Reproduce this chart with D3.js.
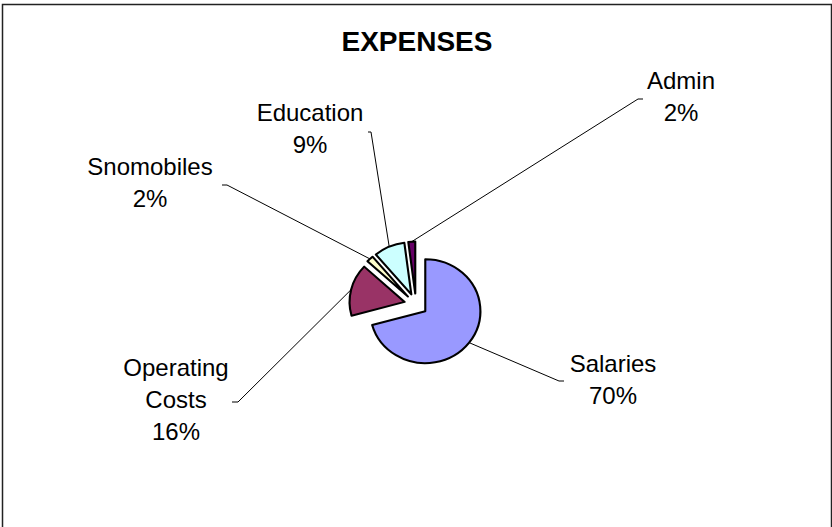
<!DOCTYPE html>
<html>
<head>
<meta charset="utf-8">
<script src="https://cdn.jsdelivr.net/npm/d3@7"></script>
<style>
  body { margin:0; background:#fff; }
  text { font-family: "Liberation Sans", Arial, sans-serif; }
</style>
</head>
<body>
<div class="container"></div>
<script>
// expense categories and their share (percent), in drawing order
var categories = ["Salaries", "Operating Costs", "Snomobiles", "Education", "Admin"];
var percents = [70, 16, 2, 9, 2];
var labelLines = [["Salaries"], ["Operating", "Costs"], ["Snomobiles"], ["Education"], ["Admin"]];
var colors = ["#9999FF", "#993366", "#FFFFCC", "#CCFFFF", "#660066"];

var width = 832, height = 527;
var cx = 416, cy = 304.5, radius = 52, explode = 11, sx = 1.06;

// where each data label sits (center x, first baseline) and the leader line end
var labelPos = [
  {x:613, y:372, ex:[559,381], tx:[564,381]},
  {x:176, y:376, ex:[238,402], tx:[232,402]},
  {x:150, y:175, ex:[227,185], tx:[222,185]},
  {x:310, y:121, ex:[371,132], tx:[368,132]},
  {x:681, y:89,  ex:[638,99],  tx:[643,99]}
];

var svg = d3.select(".container").append("svg")
    .attr("width", width).attr("height", height);

svg.append("rect").attr("width", width).attr("height", height).attr("fill", "#fff");

// frame
svg.append("rect")
    .attr("x", 2.5).attr("y", 4.5)
    .attr("width", 829).attr("height", 560)
    .attr("fill", "none").attr("stroke", "#222").attr("stroke-width", 1.5);

svg.append("text")
    .attr("x", 417).attr("y", 51)
    .attr("text-anchor", "middle")
    .attr("font-size", "28px").attr("font-weight", "bold")
    .text("EXPENSES");

var data = categories.map(function(c, i){ return {name:c, value:percents[i], i:i}; });

var pie = d3.pie().sort(null).value(function(d){ return d.value; });
var arcs = pie(data);
var arc = d3.arc().innerRadius(0).outerRadius(radius);

function offset(d, dist){
  var a = (d.startAngle + d.endAngle) / 2;
  return [Math.sin(a) * dist * sx, -Math.cos(a) * dist];
}

// leader lines
svg.selectAll("polyline.leader")
    .data(arcs)
    .enter().append("polyline")
    .attr("class", "leader")
    .attr("fill", "none").attr("stroke", "#000").attr("stroke-width", 1)
    .attr("points", function(d, i){
      var p = offset(d, radius + explode);
      var lp = labelPos[i];
      return [[cx + p[0], cy + p[1]], lp.ex, lp.tx].map(function(q){ return q.join(","); }).join(" ");
    });

var pieGroup = svg.append("g")
    .attr("transform", "translate(" + cx + "," + cy + ") scale(" + sx + ",1)");

pieGroup.selectAll("path")
    .data(arcs)
    .enter().append("path")
    .attr("transform", function(d){
      var a = (d.startAngle + d.endAngle) / 2;
      return "translate(" + (Math.sin(a) * explode) + "," + (-Math.cos(a) * explode) + ")";
    })
    .attr("d", arc)
    .attr("fill", function(d, i){ return colors[i]; })
    .attr("stroke", "#000")
    .attr("stroke-width", 2)
    .attr("stroke-linejoin", "round");

// data labels
var labels = svg.selectAll("text.lbl")
    .data(arcs)
    .enter().append("text")
    .attr("class", "lbl")
    .attr("text-anchor", "middle")
    .attr("font-size", "24px")
    .attr("fill", "#000");

labels.each(function(d, i){
  var t = d3.select(this);
  var lines = labelLines[i].concat([percents[i] + "%"]);
  lines.forEach(function(s, k){
    t.append("tspan")
      .attr("x", labelPos[i].x)
      .attr("y", labelPos[i].y + k * 32)
      .text(s);
  });
});
</script>
</body>
</html>
